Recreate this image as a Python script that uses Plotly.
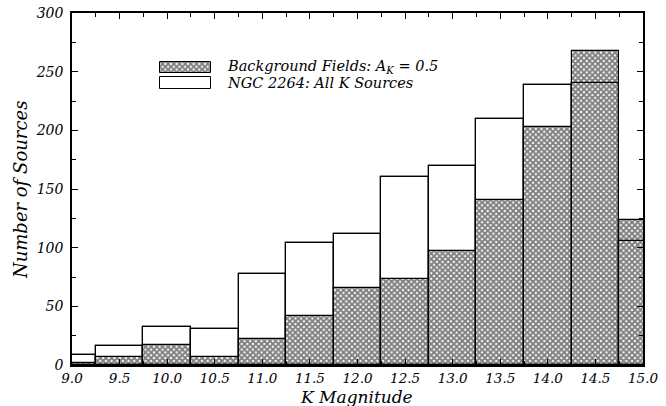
import plotly.graph_objects as go

# Data
k_mag = [9.0, 9.5, 10.0, 10.5, 11.0, 11.5, 12.0, 12.5, 13.0, 13.5, 14.0, 14.5, 15.0]
ngc_all = [8.5, 16.5, 32, 31, 77.5, 104, 112, 160, 170, 210, 238.5, 240, 106]
background = [2, 7, 17, 7, 22, 42, 66, 73, 97, 141, 203, 268, 124]
x_ticks = [9.0, 9.5, 10.0, 10.5, 11.0, 11.5, 12.0, 12.5, 13.0, 13.5, 14.0, 14.5, 15.0]
y_ticks = [0, 50, 100, 150, 200, 250, 300]
names = ["Background Fields: A<sub>K</sub> = 0.5", "NGC 2264: All K Sources"]
x_title = "K Magnitude"
y_title = "Number of Sources"

FONT = "DejaVu Serif"
bin_w = 0.5
hatch = dict(shape="x", size=4, solidity=0.72, fgcolor="black", bgcolor="white")

fig = go.Figure()
# white NGC bars
fig.add_trace(go.Bar(x=k_mag, y=ngc_all, width=bin_w, marker=dict(color="white", line=dict(color="black", width=1.2)),
                     showlegend=False, hoverinfo="skip"))
# hatched background bars
fig.add_trace(go.Bar(x=k_mag, y=background, width=bin_w,
                     marker=dict(color="white", pattern=hatch, line=dict(color="black", width=1.2)),
                     showlegend=False, hoverinfo="skip"))
# NGC outlines on top
fig.add_trace(go.Bar(x=k_mag, y=ngc_all, width=bin_w,
                     marker=dict(color="rgba(0,0,0,0)", line=dict(color="black", width=1.2)),
                     showlegend=False, hoverinfo="skip"))

# Legend keys on an overlay unit axis
key_x = 0.199
key_w = 0.089
fig.add_trace(go.Bar(x=[key_x], y=[0.031], base=[0.830], width=[key_w], xaxis="x2", yaxis="y2",
                     marker=dict(color="white", pattern=hatch, line=dict(color="black", width=1)),
                     showlegend=False, hoverinfo="skip"))
fig.add_trace(go.Bar(x=[key_x], y=[0.034], base=[0.784], width=[key_w], xaxis="x2", yaxis="y2",
                     marker=dict(color="white", line=dict(color="black", width=1)),
                     showlegend=False, hoverinfo="skip"))

for txt, yy in zip(names, [0.848, 0.801]):
    fig.add_annotation(text=txt, x=0.268, y=yy, xref="paper", yref="paper", xanchor="left", yanchor="middle",
                       showarrow=False, font=dict(family=FONT, size=14.5, color="black", style="italic"))

# axis titles
fig.add_annotation(text=f"<i>{x_title}</i>", x=0.499, y=0, xref="paper", yref="paper", xanchor="center",
                   yanchor="middle", yshift=-32, showarrow=False, font=dict(family=FONT, size=17, color="black"))
fig.add_annotation(text=f"<i>{y_title}</i>", x=0, y=0.497, xref="paper", yref="paper", xanchor="center",
                   yanchor="middle", xshift=-52, textangle=-90, showarrow=False,
                   font=dict(family=FONT, size=18, color="black"))

axis_common = dict(showline=True, linecolor="black", linewidth=1.5, mirror="allticks", ticks="inside",
                   tickcolor="black", tickwidth=1, ticklen=6, showgrid=False, zeroline=False,
                   automargin=False)

fig.update_layout(
    width=666, height=406,
    margin=dict(l=72, r=23, t=13, b=41),
    paper_bgcolor="white", plot_bgcolor="white",
    barmode="overlay", bargap=0,
    showlegend=False,
    xaxis=dict(range=[9.0, 15.0], tickvals=x_ticks, ticktext=[f"<i>{v:.1f}</i>" for v in x_ticks],
               ticklabelstandoff=0, tickfont=dict(family=FONT, size=13.5, color="black"),
               minor=dict(dtick=0.25, tick0=9.0, ticks="inside", ticklen=4, tickcolor="black"),
               **axis_common),
    yaxis=dict(range=[0, 300], tickvals=y_ticks, ticktext=[f"<i>{v}</i>" for v in y_ticks],
               ticklabelstandoff=4, tickfont=dict(family=FONT, size=14, color="black"),
               minor=dict(dtick=25, tick0=0, ticks="inside", ticklen=4, tickcolor="black"),
               **axis_common),
    xaxis2=dict(overlaying="x", range=[0, 1], visible=False),
    yaxis2=dict(overlaying="y", range=[0, 1], visible=False),
)

fig.write_html("out.html")
